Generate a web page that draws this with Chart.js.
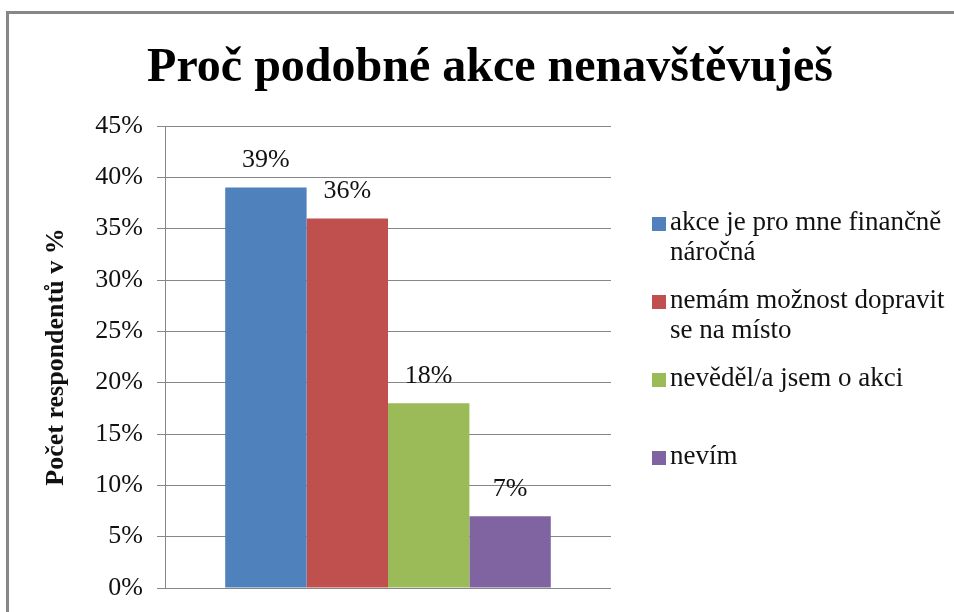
<!DOCTYPE html>
<html>
<head>
<meta charset="utf-8">
<script src="https://cdn.jsdelivr.net/npm/chart.js@4/dist/chart.umd.min.js"></script>
<style>
  html, body { margin: 0; padding: 0; background: #fff; }
  #wrap { position: relative; width: 954px; height: 612px; }
</style>
</head>
<body>
<div id="wrap"><canvas id="reasonChart"></canvas></div>
<script>
const chartTitle = 'Proč podobné akce nenavštěvuješ';
const categories = [''];
const seriesNames = [
  'akce je pro mne finančně náročná',
  'nemám možnost dopravit se na místo',
  'nevěděl/a jsem o akci',
  'nevím'
];
// how the legend wraps each name
const legendLines = [
  ['akce je pro mne finančně', 'náročná'],
  ['nemám možnost dopravit', 'se na místo'],
  ['nevěděl/a jsem o akci'],
  ['nevím']
];
const seriesValues = [39, 36, 18, 7];
const seriesColors = ['#4F81BD', '#C0504D', '#9BBB59', '#8064A2'];
const yTicks = [0, 5, 10, 15, 20, 25, 30, 35, 40, 45];

const serif = "'Liberation Serif', 'Times New Roman', serif";
const gridColor = '#878787';

const frame = {
  id: 'frame',
  beforeDraw(chart) {
    const ctx = chart.ctx;
    ctx.save();
    ctx.fillStyle = gridColor;
    ctx.fillRect(6, 11, 3, 601);
    ctx.fillRect(6, 11, 948, 3);
    ctx.restore();
  },
  afterDraw(chart) {
    // title is centred over the whole frame, not only the plot
    const ctx = chart.ctx;
    ctx.save();
    ctx.font = 'bold 48px ' + serif;
    ctx.fillStyle = '#000';
    ctx.textAlign = 'center';
    ctx.textBaseline = 'alphabetic';
    ctx.fillText(chartTitle, 490, 81);
    ctx.restore();
  }
};

const valueLabels = {
  id: 'valueLabels',
  afterDatasetsDraw(chart) {
    const ctx = chart.ctx;
    ctx.save();
    ctx.font = '26px ' + serif;
    ctx.fillStyle = '#111';
    ctx.textAlign = 'center';
    ctx.textBaseline = 'middle';
    chart.data.datasets.forEach((ds, i) => {
      chart.getDatasetMeta(i).data.forEach((bar, j) => {
        ctx.fillText(ds.data[j] + '%', bar.x, bar.y - 27);
      });
    });
    ctx.restore();
  }
};

const sideLegend = {
  id: 'sideLegend',
  afterDraw(chart) {
    const ctx = chart.ctx;
    ctx.save();
    ctx.font = '27px ' + serif;
    ctx.textBaseline = 'alphabetic';
    chart.data.datasets.forEach((ds, i) => {
      const base = 230 + i * 78;
      ctx.fillStyle = ds.backgroundColor;
      ctx.fillRect(652, base - 13, 14, 14);
      ctx.fillStyle = '#111';
      legendLines[i].forEach((line, k) => {
        ctx.fillText(line, 670, base + k * 30);
      });
    });
    ctx.restore();
  }
};

new Chart(document.getElementById('reasonChart'), {
  type: 'bar',
  data: {
    labels: categories,
    datasets: seriesNames.map((name, i) => ({
      label: name,
      data: [seriesValues[i]],
      backgroundColor: seriesColors[i],
      borderWidth: 0
    }))
  },
  options: {
    responsive: true,
    maintainAspectRatio: false,
    animation: false,
    categoryPercentage: 0.73,
    barPercentage: 1,
    layout: {
      padding: { left: 30, right: 343, top: 126, bottom: 24 }
    },
    scales: {
      x: {
        grid: { display: false },
        border: { display: false },
        ticks: { display: false },
        afterFit(scale) { scale.height = 0; }
      },
      y: {
        min: 0,
        max: 45,
        afterBuildTicks(scale) {
          scale.ticks = yTicks.map(v => ({ value: v }));
        },
        afterFit(scale) {
          scale.width = 135;
          scale.paddingTop = 0;
          scale.paddingBottom = 0;
        },
        grid: {
          color: gridColor,
          lineWidth: 1,
          tickLength: 8
        },
        border: { color: gridColor, width: 1 },
        ticks: {
          padding: 14,
          color: '#111',
          font: { family: serif, size: 26 },
          callback: v => v + '%'
        },
        title: {
          display: true,
          text: 'Počet respondentů v %',
          color: '#111',
          font: { family: serif, size: 26, weight: 'bold' },
          padding: { top: 11, bottom: 0 }
        }
      }
    },
    plugins: {
      legend: { display: false },
      tooltip: { enabled: false },
      title: { display: false }
    }
  },
  plugins: [frame, valueLabels, sideLegend]
});
</script>
</body>
</html>
